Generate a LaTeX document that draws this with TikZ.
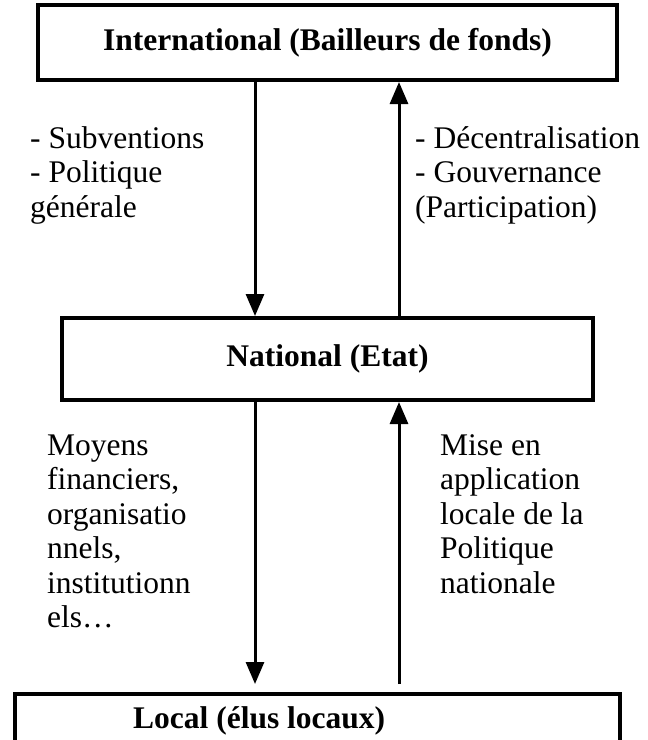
\documentclass[tikz,border=0pt]{standalone}
\usepackage{fontspec}
\setmainfont{Liberation Serif}
\usetikzlibrary{arrows.meta}
\begin{document}
\begin{tikzpicture}[x=1pt,y=-1pt,
  box/.style={draw,line width=4pt,inner sep=0pt,font=\fontsize{31.5}{34.5}\selectfont\bfseries},
  arr/.style={line width=3pt,-{Triangle[width=18pt,length=22pt]}},
  lbl/.style={anchor=base west,inner sep=0pt,font=\fontsize{31.5}{34.5}\selectfont}
]
\useasboundingbox (0,0) rectangle (648,740);
\clip (0,0) rectangle (648,740);
\coordinate (xl) at (255,0);
\coordinate (xr) at (399,0);
% boxes
\node[box, minimum width=579pt, minimum height=75pt] (intl) at (327.5,42.5) {International (Bailleurs de fonds)};
\node[box, minimum width=531pt, minimum height=82pt] (nat) at (327.5,359) {National (Etat)};
\node[box, minimum width=605pt, minimum height=96pt] (loc) at (317.5,742) {};
\node[lbl, font=\fontsize{31.5}{34.5}\selectfont\bfseries] (loctxt) at (133,728) {Local (élus locaux)};
% arrows
\draw[arr] (intl.south -| xl) -- (nat.north -| xl);
\draw[arr] (nat.north -| xr) -- (intl.south -| xr);
\draw[arr, shorten >=8pt] (nat.south -| xl) -- (loc.north -| xl);
\draw[arr, shorten <=8pt] (loc.north -| xr) -- (nat.south -| xr);
% upper labels
\node[lbl] (a1) at (30,148) {- Subventions};
\node[lbl] (a2) at (30,182) {- Politique};
\node[lbl] (a3) at (30,217) {générale};
\node[lbl] (b1) at (415,148) {- Décentralisation};
\node[lbl] (b2) at (415,182) {- Gouvernance};
\node[lbl] (b3) at (415,217) {(Participation)};
% lower labels
\node[lbl] (c1) at (47,455) {Moyens};
\node[lbl] (c2) at (47,489) {financiers,};
\node[lbl] (c3) at (47,524) {organisatio};
\node[lbl] (c4) at (47,558) {nnels,};
\node[lbl] (c5) at (47,593) {institutionn};
\node[lbl] (c6) at (47,627) {els\ldots};
\node[lbl] (d1) at (440,455) {Mise en};
\node[lbl] (d2) at (440,489) {application};
\node[lbl] (d3) at (440,524) {locale de la};
\node[lbl] (d4) at (440,558) {Politique};
\node[lbl] (d5) at (440,593) {nationale};
\end{tikzpicture}
\end{document}
